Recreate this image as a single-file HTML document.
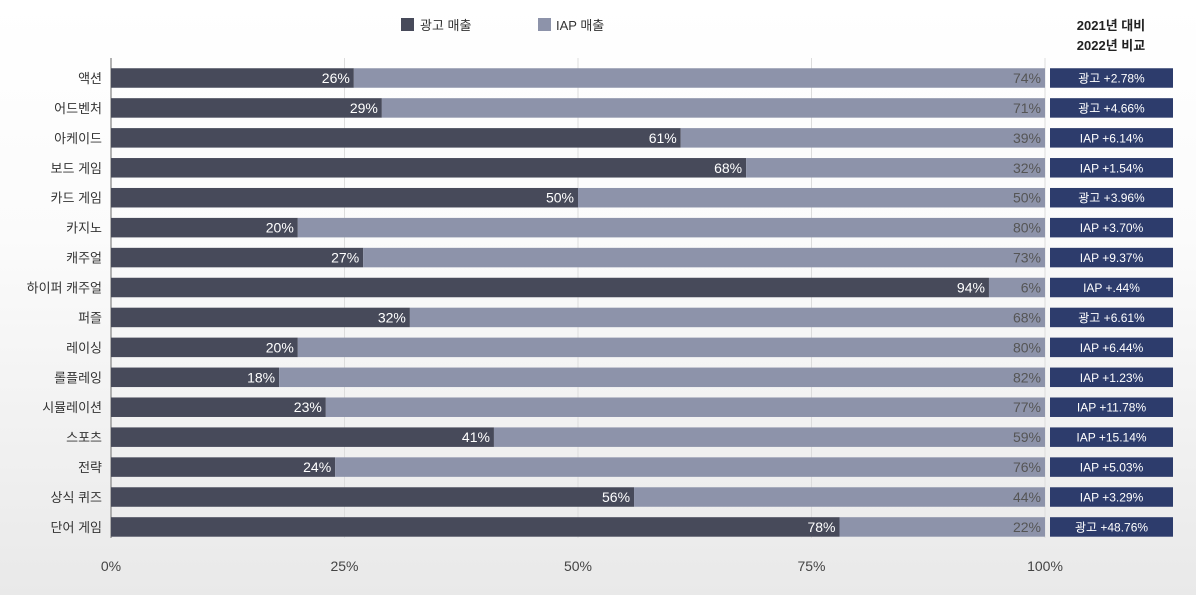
<!DOCTYPE html>
<html><head><meta charset="utf-8"><style>
html,body{margin:0;padding:0}
body{width:1196px;height:595px;overflow:hidden;background:linear-gradient(#ffffff 0%,#fbfbfb 40%,#e9e9e9 100%);font-family:"Liberation Sans","Noto Sans CJK KR",sans-serif}
</style></head><body>
<svg id="chart" width="1196" height="595" xmlns="http://www.w3.org/2000/svg" style="font-family:'Liberation Sans','Noto Sans CJK KR',sans-serif">
<g>
<rect x="401" y="18" width="13" height="13" fill="#474a5a"/>
<text x="420" y="30" font-size="13" fill="#333">광고 매출</text>
<rect x="538" y="18" width="13" height="13" fill="#8d93aa"/>
<text x="556" y="30" font-size="13" fill="#333">IAP 매출</text>
</g>
<text x="1111" y="30" font-size="13" font-weight="bold" text-anchor="middle" fill="#222">2021년 대비</text>
<text x="1111" y="50" font-size="13" font-weight="bold" text-anchor="middle" fill="#222">2022년 비교</text>
<g id="grid"></g><g id="bars"></g><g id="axis"></g>
</svg>
<script>
const categories=["액션","어드벤처","아케이드","보드 게임","카드 게임","카지노","캐주얼","하이퍼 캐주얼","퍼즐","레이싱","롤플레잉","시뮬레이션","스포츠","전략","상식 퀴즈","단어 게임"];
const adShare=[26,29,61,68,50,20,27,94,32,20,18,23,41,24,56,78];
const iapShare=[74,71,39,32,50,80,73,6,68,80,82,77,59,76,44,22];
const compareLabels=["광고 +2.78%","광고 +4.66%","IAP +6.14%","IAP +1.54%","광고 +3.96%","IAP +3.70%","IAP +9.37%","IAP +.44%","광고 +6.61%","IAP +6.44%","IAP +1.23%","IAP +11.78%","IAP +15.14%","IAP +5.03%","IAP +3.29%","광고 +48.76%"];
const xTicks=[0,25,50,75,100];
const NS="http://www.w3.org/2000/svg";
const x0=111,x1=1045,yTop=58,yBot=538,rowStart=78,pitch=29.93,bh=19.5;
const xs=v=>x0+(x1-x0)*v/100;
const ys=i=>rowStart+i*pitch;
function mk(tag,attrs,parent,txt){const e=document.createElementNS(NS,tag);for(const k in attrs)e.setAttribute(k,attrs[k]);if(txt!==undefined)e.textContent=txt;parent.appendChild(e);return e;}
const grid=document.getElementById('grid'),bars=document.getElementById('bars'),axis=document.getElementById('axis');
xTicks.forEach(t=>{
  const l=mk('line',{x1:xs(t),x2:xs(t),y1:yTop,y2:yBot,stroke:t===0?'#999':'#ddd','stroke-width':t===0?1.5:1},grid);
  
  
  const tx=mk('text',{x:xs(t),y:571,'font-size':14,'text-anchor':'middle',fill:'#444'},axis,t+'%');
  
  
});
categories.forEach((c,i)=>{
  const cy=ys(i),top=cy-bh/2;
  const lab=mk('text',{x:102,y:cy+5,'font-size':13,'text-anchor':'end',fill:'#333'},bars,c);
  
  
  const a=mk('rect',{x:xs(0),y:top,width:xs(adShare[i])-xs(0),height:bh,fill:'#474a5a'},bars);
  
  
  const b=mk('rect',{x:xs(adShare[i]),y:top,width:xs(adShare[i]+iapShare[i])-xs(adShare[i]),height:bh,fill:'#8d93aa'},bars);
  
  
  const at=mk('text',{x:xs(adShare[i])-4,y:cy+5,'font-size':14,'text-anchor':'end',fill:'#fff'},bars,adShare[i]+'%');
  
  
  const bt=mk('text',{x:xs(adShare[i]+iapShare[i])-4,y:cy+5,'font-size':14,'text-anchor':'end',fill:'#555'},bars,iapShare[i]+'%');
  
  
  const box=mk('rect',{x:1050,y:top,width:123,height:bh,fill:'#2d3c6c'},bars);
  
  
  const bx=mk('text',{x:1111.5,y:cy+4.5,'font-size':12,'text-anchor':'middle',fill:'#fff'},bars,compareLabels[i]);
  
  
});
</script>
</body></html>
